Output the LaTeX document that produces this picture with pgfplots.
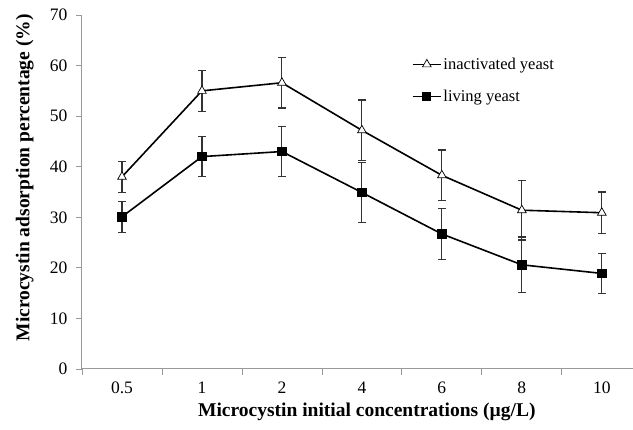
\documentclass[border=0pt]{standalone}
\usepackage{pgfplots}
\pgfplotsset{compat=1.18}
\usepackage{fontspec}
\setmainfont{Liberation Serif}
\begin{document}
\begin{tikzpicture}
\begin{axis}[
  at={(0,0)}, anchor=south west,
  scale only axis,
  width=551pt, height=354pt,
  xmin=-0.5, xmax=6.39,
  ymin=0, ymax=70,
  axis x line*=bottom, axis y line*=left,
  axis line style={draw=gray!80, line width=1pt},
  xtick={0,1,2,3,4,5,6},
  xticklabels={0.5,1,2,4,6,8,10},
  minor xtick={-0.5,0.5,1.5,2.5,3.5,4.5,5.5},
  ytick={0,10,20,30,40,50,60,70},
  tick align=outside,
  major x tick style={draw=none},
  minor x tick style={draw=gray!80, line width=0.8pt},
  y tick style={draw=gray!80, line width=0.8pt},
  major tick length=6pt, minor tick length=6pt,
  tick label style={font=\fontsize{17.5}{20}\selectfont},
  /pgf/number format/assume math mode=true,
  xticklabel style={yshift=-6pt, inner sep=1pt},
  yticklabel style={xshift=-5pt},
  xlabel={\textbf{Microcystin initial concentrations (µg/L)}},
  ylabel={\textbf{Microcystin adsorption percentage (\%)}},
  label style={font=\fontsize{19.5}{22}\selectfont, inner sep=1pt},
  xlabel style={at={(axis description cs:0.517,-0.12)}, anchor=center},
  ylabel style={at={(axis description cs:-0.104,0.54)}, anchor=center},
  legend style={at={(0.599,0.885)}, anchor=north west, draw=none, fill=none,
    font=\fontsize{16.5}{19}\selectfont, row sep=15pt, inner sep=0pt,
    /tikz/every even column/.append style={column sep=2pt}},
  legend cell align=left,
  legend image code/.code={
    \draw[mark repeat=2, mark phase=2, line width=1.2pt]
      plot coordinates {(0pt,0pt) (14pt,0pt) (28pt,0pt)};},
  clip=false,
]
\addplot[black, line width=1.6pt, mark=triangle*, mark size=5pt,
  mark options={fill=white, draw=black, line width=0.7pt},
  error bars/.cd, y dir=both, y explicit,
  error bar style={draw=black!80, line width=1.1pt},
  error mark options={rotate=90, mark size=4pt, draw=black!80, line width=1.1pt}]
  coordinates {
  (0,38.0) +- (0,3.1)
  (1,55.0) +- (0,4.0)
  (2,56.6) +- (0,5.0)
  (3,47.2) +- (0,6.0)
  (4,38.3) +- (0,5.0)
  (5,31.4) +- (0,5.9)
  (6,30.9) +- (0,4.1)
  };
\addlegendentry{inactivated yeast}
\addplot[black, line width=1.6pt, mark=square*, mark size=4pt,
  mark options={fill=black, draw=black},
  error bars/.cd, y dir=both, y explicit,
  error bar style={draw=black!80, line width=1.1pt},
  error mark options={rotate=90, mark size=4pt, draw=black!80, line width=1.1pt}]
  coordinates {
  (0,30.1) +- (0,3.1)
  (1,42.0) +- (0,4.0)
  (2,43.0) +- (0,5.0)
  (3,34.9) +- (0,6.0)
  (4,26.7) +- (0,5.0)
  (5,20.6) +- (0,5.5)
  (6,18.9) +- (0,4.0)
  };
\addlegendentry{living yeast}
\end{axis}
\pgfresetboundingbox
\path (-82pt,-61pt) rectangle (551pt,369pt);
\end{tikzpicture}
\end{document}
